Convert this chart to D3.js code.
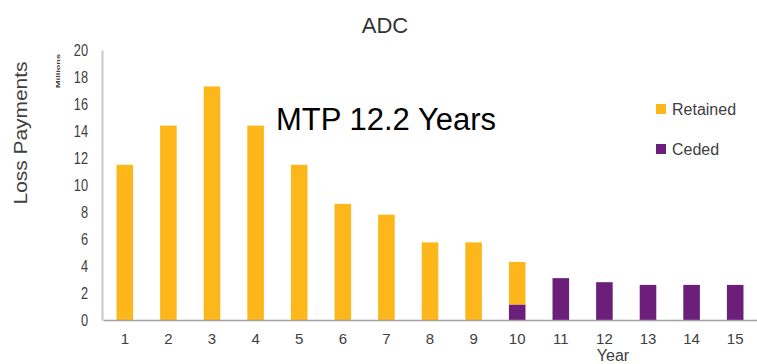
<!DOCTYPE html>
<html>
<head>
<meta charset="utf-8">
<script src="https://cdn.jsdelivr.net/npm/d3@7"></script>
<style>
  html, body { margin: 0; padding: 0; background: #fff; }
  svg { display: block; font-family: "Liberation Sans", Arial, sans-serif; }
</style>
</head>
<body>
<svg id="chart" width="757" height="364"></svg>
<script>
// Loss payments by development year, split into retained and ceded (millions)
const years = ["1","2","3","4","5","6","7","8","9","10","11","12","13","14","15"];
const retained = [11.5, 14.4, 17.3, 14.4, 11.5, 8.6, 7.8, 5.75, 5.75, 3.15, 0, 0, 0, 0, 0];
const ceded    = [0, 0, 0, 0, 0, 0, 0, 0, 0, 1.15, 3.1, 2.8, 2.6, 2.6, 2.6];
const yTicks = [0, 2, 4, 6, 8, 10, 12, 14, 16, 18, 20];
const seriesKeys = ["ceded", "retained"];
const legendItems = [
  { key: "retained", label: "Retained" },
  { key: "ceded", label: "Ceded" }
];
const colors = { retained: "#FDB71B", ceded: "#6B1F7B" };

const rows = years.map((y, i) => ({ year: y, retained: retained[i], ceded: ceded[i] }));
const stacked = d3.stack().keys(seriesKeys)(rows);

const svg = d3.select("#chart");

const x = d3.scaleBand().domain(years).range([103, 757]).paddingInner(0.62).paddingOuter(0.31);
const y = d3.scaleLinear().domain([0, 20]).range([320, 50]);

// title
svg.append("text")
  .attr("x", 385).attr("y", 33)
  .attr("text-anchor", "middle")
  .attr("font-size", 22)
  .attr("fill", "#333")
  .text("ADC");

// bars
svg.append("g").selectAll("g")
  .data(stacked)
  .join("g")
  .attr("fill", d => colors[d.key])
  .selectAll("rect")
  .data(d => d.filter(s => s[1] - s[0] > 0))
  .join("rect")
  .attr("x", d => x(d.data.year))
  .attr("width", x.bandwidth())
  .attr("y", d => y(d[1]))
  .attr("height", d => y(d[0]) - y(d[1]));

// y axis
const yAxis = svg.append("g")
  .attr("transform", "translate(102,0)")
  .call(d3.axisLeft(y).tickValues(yTicks).tickSize(0).tickPadding(10));
yAxis.select(".domain").attr("stroke", "#c8c8c8").attr("stroke-width", 2);
yAxis.selectAll("text")
  .attr("font-size", 16)
  .attr("fill", "#404040")
  .attr("font-family", "Liberation Sans, Arial, sans-serif")
  .attr("transform", "scale(0.8,1)")
  .attr("x", -14 / 0.8);

// x axis
const xAxis = svg.append("g")
  .attr("transform", "translate(0,320)")
  .call(d3.axisBottom(x).tickSize(0).tickPadding(13));
xAxis.select(".domain").attr("stroke", "#a0a0a0").attr("stroke-width", 1.5);
xAxis.selectAll("text")
  .attr("font-size", 15)
  .attr("fill", "#404040")
  .attr("font-family", "Liberation Sans, Arial, sans-serif");

// axis titles
svg.append("text")
  .attr("transform", "translate(27,133) rotate(-90)")
  .attr("text-anchor", "middle")
  .attr("font-size", 18)
  .attr("fill", "#404040")
  .attr("textLength", 143)
  .attr("lengthAdjust", "spacingAndGlyphs")
  .text("Loss Payments");

svg.append("text")
  .attr("transform", "translate(60,71) rotate(-90)")
  .attr("text-anchor", "middle")
  .attr("font-size", 6)
  .attr("font-weight", "bold")
  .attr("fill", "#404040")
  .attr("textLength", 34)
  .attr("lengthAdjust", "spacingAndGlyphs")
  .text("Millions");

svg.append("text")
  .attr("x", 613).attr("y", 361)
  .attr("text-anchor", "middle")
  .attr("font-size", 16)
  .attr("fill", "#404040")
  .text("Year");

// annotation
svg.append("text")
  .attr("x", 276).attr("y", 130)
  .attr("font-size", 31)
  .attr("fill", "#000")
  .text("MTP 12.2 Years");

// legend
const legend = svg.append("g").selectAll("g")
  .data(legendItems)
  .join("g")
  .attr("transform", (d, i) => `translate(656,${104 + i * 40})`);
legend.append("rect")
  .attr("width", 10).attr("height", 10)
  .attr("fill", d => colors[d.key]);
legend.append("text")
  .attr("x", 16).attr("y", 11)
  .attr("font-size", 16)
  .attr("fill", "#404040")
  .text(d => d.label);
</script>
</body>
</html>
